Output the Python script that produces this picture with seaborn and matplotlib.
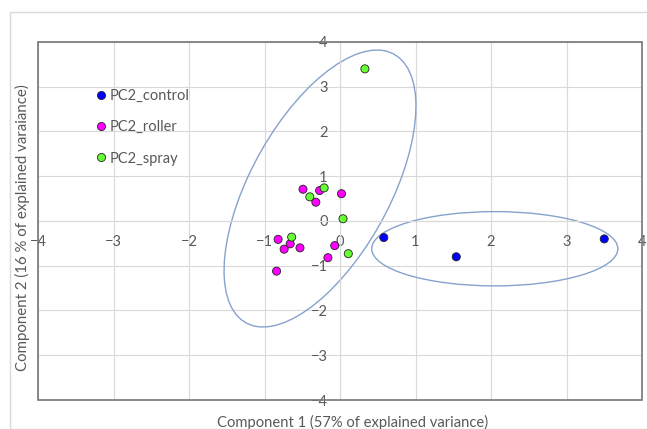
import numpy as np
import matplotlib.pyplot as plt
import seaborn as sns
import pandas as pd
from matplotlib.patches import Ellipse, Rectangle

# PCA scores (component 1, component 2) per group
control_x = [0.58, 1.54, 3.50]
control_y = [-0.37, -0.80, -0.40]

roller_x = [-0.49, -0.27, -0.32, 0.02, -0.82, -0.66, -0.74, -0.53, -0.07, -0.16, -0.84]
roller_y = [0.71, 0.68, 0.42, 0.61, -0.41, -0.51, -0.63, -0.60, -0.55, -0.82, -1.12]

spray_x = [-0.21, -0.40, 0.04, -0.64, 0.11, 0.33]
spray_y = [0.74, 0.54, 0.05, -0.36, -0.73, 3.40]

grupos = ["PC2_control", "PC2_roller", "PC2_spray"]
colores = {"PC2_control": "#0000FF", "PC2_roller": "#FF00FF", "PC2_spray": "#66FF33"}
ticks = [-4, -3, -2, -1, 0, 1, 2, 3, 4]

df = pd.DataFrame({
    "pc1": control_x + roller_x + spray_x,
    "pc2": control_y + roller_y + spray_y,
    "grupo": [grupos[0]] * len(control_x) + [grupos[1]] * len(roller_x) + [grupos[2]] * len(spray_x),
})

sns.set_style("white")
plt.rcParams['font.family'] = ['Lato', 'DejaVu Sans']
gris = "#595959"

fig = plt.figure(figsize=(6.47, 4.29), dpi=100)
# borde exterior del grafico
fig.patches.append(Rectangle((10 / 647, 0), 1, 1 - 12 / 429, transform=fig.transFigure,
                             fill=False, edgecolor="#D9D9D9", linewidth=1))
ax = fig.add_axes([38 / 647, 1 - 400 / 429, 604 / 647, 358 / 429])

sns.scatterplot(data=df, x="pc1", y="pc2", hue="grupo", palette=colores, hue_order=grupos,
                s=34, edgecolor="#222222", linewidth=0.6, ax=ax, zorder=3)

# elipses de agrupamiento
ax.add_patch(Ellipse((-0.265, 0.726), width=6.39, height=1.98, angle=74.8,
                     fill=False, edgecolor="#85A3CD", linewidth=1.0, zorder=2))
ax.add_patch(Ellipse((2.05, -0.62), width=3.26, height=1.66, angle=0,
                     fill=False, edgecolor="#85A3CD", linewidth=1.0, zorder=2))

ax.set_xlim(-4, 4)
ax.set_ylim(-4, 4)
ax.set_xticks(ticks)
ax.set_yticks(ticks)
ax.grid(True, color="#D9D9D9", linewidth=0.8, zorder=0)
ax.set_axisbelow(True)

# ejes cruzando en el origen
for lado in ["left", "bottom"]:
    ax.spines[lado].set_position(("data", 0))
    ax.spines[lado].set_color("#D9D9D9")
    ax.spines[lado].set_linewidth(0.8)
for lado in ["top", "right"]:
    ax.spines[lado].set_visible(False)
ax.add_patch(Rectangle((0, 0), 1, 1, transform=ax.transAxes, fill=False,
                       edgecolor="#767676", linewidth=1.2, zorder=5, clip_on=False))

ax.tick_params(axis="both", length=0, labelsize=10.5, labelcolor=gris)
ax.tick_params(axis="x", pad=10)
ax.tick_params(axis="y", pad=9)

ax.set_xlabel("")
ax.set_ylabel("")
fig.text(353 / 647, 1 - 422 / 429, "Component 1 (57% of explained variance)",
         ha="center", va="center", fontsize=10.6, color=gris)
fig.text(22 / 647, 1 - 228 / 429, "Component 2 (16 % of explained varaiance)",
         ha="center", va="center", rotation=90, fontsize=10.8, color=gris)

ax.legend(loc="upper left", bbox_to_anchor=(0.07, 0.905), frameon=False, fontsize=10.5,
          handletextpad=0.1, labelspacing=1.18, handlelength=1.0, labelcolor=gris,
          markerscale=1.0)

plt.savefig("out.png", dpi=100)
